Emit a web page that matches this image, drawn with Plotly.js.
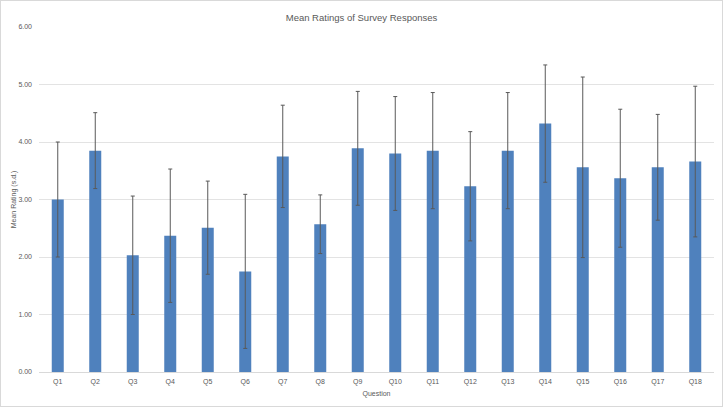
<!DOCTYPE html>
<html>
<head>
<meta charset="utf-8">
<script src="https://cdn.plot.ly/plotly-3.0.1.min.js"></script>
<style>
  body { margin: 0; background: #fff; }
  #chart { width: 721px; height: 405px; border: 1px solid #d9d9d9; }
</style>
</head>
<body>
<div id="chart"></div>
<script>
// Questions and mean ratings with standard deviations
var questions = ['Q1','Q2','Q3','Q4','Q5','Q6','Q7','Q8','Q9','Q10','Q11','Q12','Q13','Q14','Q15','Q16','Q17','Q18'];
var meanRatings = [3.00, 3.85, 2.03, 2.37, 2.51, 1.75, 3.75, 2.57, 3.89, 3.80, 3.85, 3.23, 3.85, 4.32, 3.56, 3.37, 3.56, 3.66];
var stdDevs = [1.00, 0.66, 1.03, 1.16, 0.81, 1.34, 0.89, 0.51, 0.99, 0.99, 1.01, 0.95, 1.01, 1.02, 1.57, 1.20, 0.92, 1.31];
var yTicks = [0, 1, 2, 3, 4, 5, 6];

var trace1 = {
    x: questions,
    y: meanRatings,
    type: 'bar',
    marker: { color: '#4f81bd' },
    error_y: {
        type: 'data',
        array: stdDevs,
        visible: true,
        color: '#595959',
        thickness: 1,
        width: 2
    },
    hoverinfo: 'x+y'
};

var layout = {
    width: 721,
    height: 405,
    margin: { l: 38, r: 8, t: 26, b: 34 },
    paper_bgcolor: '#ffffff',
    plot_bgcolor: '#ffffff',
    font: { family: 'Liberation Sans, Arial, sans-serif', color: '#595959', size: 7 },
    title: {
        text: 'Mean Ratings of Survey Responses',
        font: { size: 9.5, color: '#595959' },
        x: 0.5,
        xanchor: 'center',
        y: 0.958,
        yanchor: 'middle'
    },
    bargap: 0.68,
    showlegend: false,
    xaxis: {
        title: { text: 'Question', font: { size: 7, color: '#595959' }, standoff: 5 },
        showgrid: false,
        showline: true,
        linecolor: '#d9d9d9',
        linewidth: 1,
        ticks: '',
        ticklabelstandoff: 3,
        tickfont: { size: 7, color: '#595959' },
        automargin: false
    },
    yaxis: {
        title: { text: 'Mean Rating (s.d.)', font: { size: 7, color: '#595959' }, standoff: 0 },
        range: [0, 6],
        tickvals: yTicks,
        ticktext: yTicks.map(v => v.toFixed(2)),
        showgrid: true,
        gridcolor: '#e3e3e3',
        gridwidth: 1,
        zeroline: false,
        showline: false,
        ticks: '',
        ticklabelstandoff: 6,
        tickfont: { size: 7, color: '#595959' },
        automargin: false
    }
};

Plotly.newPlot('chart', [trace1], layout, { displayModeBar: false, staticPlot: true });
</script>
</body>
</html>
